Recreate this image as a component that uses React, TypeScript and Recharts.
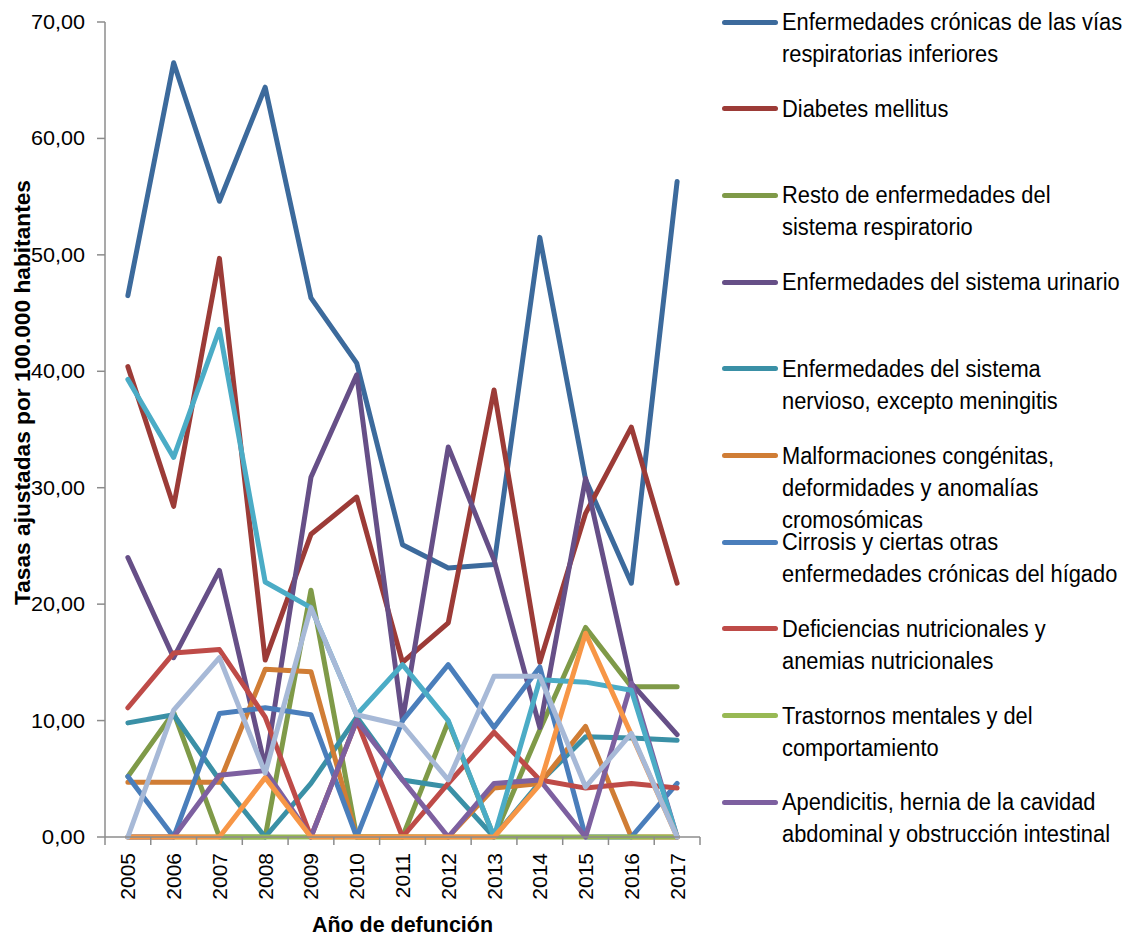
import { LineChart, Line, XAxis, YAxis, Label } from 'recharts'

const YEARS = [2005, 2006, 2007, 2008, 2009, 2010, 2011, 2012, 2013, 2014, 2015, 2016, 2017]

const CRONICAS_RESP = [46.5, 66.5, 54.6, 64.4, 46.3, 40.7, 25.1, 23.1, 23.4, 51.5, 30.7, 21.8, 56.3]
const DIABETES = [40.4, 28.4, 49.7, 15.2, 26.0, 29.2, 15.0, 18.4, 38.4, 15.0, 27.8, 35.2, 21.8]
const RESTO_RESP = [5.2, 10.7, 0, 0, 21.2, 0, 0, 9.9, 0, 9.2, 18.0, 12.9, 12.9]
const URINARIO = [24.0, 15.4, 22.9, 6.0, 30.9, 39.7, 10.0, 33.5, 23.8, 9.4, 30.8, 13.2, 8.8]
const NERVIOSO = [9.8, 10.5, 4.9, 0, 4.6, 10.3, 4.9, 4.3, 0, 4.7, 8.6, 8.5, 8.3]
const MALFORMACIONES = [4.7, 4.7, 4.7, 14.4, 14.2, 0, 0, 0, 4.2, 4.6, 9.5, 0, 0]
const CIRROSIS = [5.2, 0, 10.6, 11.1, 10.5, 0, 10.0, 14.8, 9.4, 14.6, 0, 0, 4.6]
const DEFICIENCIAS = [11.1, 15.8, 16.1, 10.3, 0, 10.0, 0, 4.6, 9.0, 4.9, 4.2, 4.6, 4.2]
const TRASTORNOS = [0, 0, 0, 0, 0, 0, 0, 0, 0, 0, 0, 0, 0]
const APENDICITIS = [0, 0, 5.3, 5.7, 0, 10.0, 4.9, 0, 4.6, 4.9, 0, 13.2, 0]
// series whose legend entries are cut off in the original
const OTRA_1 = [39.3, 32.6, 43.6, 21.9, 19.7, 10.5, 14.8, 10.0, 0, 13.5, 13.3, 12.6, 0]
const OTRA_2 = [0, 0, 0, 5.1, 0, 0, 0, 0, 0, 4.5, 17.5, 8.8, 0]
const OTRA_3 = [0, 10.9, 15.4, 5.5, 19.7, 10.5, 9.6, 4.9, 13.8, 13.8, 4.3, 8.9, 0]

const Y_TICKS = [0, 10, 20, 30, 40, 50, 60, 70]

const SERIES = [
  { key: 's1', name: 'Enfermedades crónicas de las vías\nrespiratorias inferiores', values: CRONICAS_RESP, color: '#3c6a9c', legend: true },
  { key: 's2', name: 'Diabetes mellitus', values: DIABETES, color: '#9c3b37', legend: true },
  { key: 's3', name: 'Resto de enfermedades del\nsistema respiratorio', values: RESTO_RESP, color: '#7f9a48', legend: true },
  { key: 's4', name: 'Enfermedades del sistema urinario', values: URINARIO, color: '#664f87', legend: true },
  { key: 's5', name: 'Enfermedades del sistema\nnervioso, excepto meningitis', values: NERVIOSO, color: '#3a90a6', legend: true },
  { key: 's6', name: 'Malformaciones congénitas,\ndeformidades y anomalías\ncromosómicas', values: MALFORMACIONES, color: '#d07d35', legend: true },
  { key: 's7', name: 'Cirrosis y ciertas otras\nenfermedades crónicas del hígado', values: CIRROSIS, color: '#4a7ebb', legend: true },
  { key: 's8', name: 'Deficiencias nutricionales y\nanemias nutricionales', values: DEFICIENCIAS, color: '#be4b48', legend: true },
  { key: 's9', name: 'Trastornos mentales y del\ncomportamiento', values: TRASTORNOS, color: '#98b954', legend: true },
  { key: 's10', name: 'Apendicitis, hernia de la cavidad\nabdominal y obstrucción intestinal', values: APENDICITIS, color: '#7d60a0', legend: true },
  { key: 's11', name: 'Otra 1', values: OTRA_1, color: '#4bacc6', legend: false },
  { key: 's12', name: 'Otra 2', values: OTRA_2, color: '#f79646', legend: false },
  { key: 's13', name: 'Otra 3', values: OTRA_3, color: '#a7b9d7', legend: false },
]

const data = YEARS.map((year, i) => {
  const row: Record<string, number> = { year }
  SERIES.forEach((s) => {
    row[s.key] = s.values[i]
  })
  return row
})

const W = 1125
const H = 938
const Y_AXIS_W = 105
const RIGHT = 425
const X_AXIS_H = 101
const HALF_STEP = (W - Y_AXIS_W - RIGHT) / YEARS.length / 2

const SANS = '"Liberation Sans", Arial, sans-serif'
const AXIS = '#8c8c8c'

const fmt = (v: number) => v.toFixed(2).replace('.', ',')

function XTick(props: any) {
  const { x, y, payload, index } = props
  const last = index === YEARS.length - 1
  return (
    <g>
      <line x1={x - HALF_STEP} x2={x - HALF_STEP} y1={y} y2={y + 8} stroke={AXIS} strokeWidth={1.5} />
      {last && <line x1={x + HALF_STEP} x2={x + HALF_STEP} y1={y} y2={y + 8} stroke={AXIS} strokeWidth={1.5} />}
      <text
        transform={`translate(${x},${y + 16}) rotate(-90)`}
        textAnchor="end"
        dominantBaseline="central"
        fontSize={21}
        fontFamily={SANS}
        fill="#000"
      >
        {payload.value}
      </text>
    </g>
  )
}

// the original tick labels are a touch wider than Arial, so stretch them a little
function YTick(props: any) {
  const { x, y, payload } = props
  const label = fmt(payload.value)
  return (
    <text
      x={x}
      y={y}
      textAnchor="end"
      dominantBaseline="central"
      fontSize={20}
      fontFamily={SANS}
      textLength={label.length * 10.8}
      lengthAdjust="spacingAndGlyphs"
      fill="#000"
    >
      {label}
    </text>
  )
}

// Excel's legend, drawn beside the plot; Arial Narrow is imitated with a horizontal squeeze
function LegendBox() {
  const items = SERIES.filter((s) => s.legend)
  return (
    <div style={{ position: 'absolute', left: 722, top: 0, width: 403, height: H, overflow: 'hidden' }}>
      {items.map((s, i) => (
        <div
          key={s.key}
          style={{ position: 'absolute', left: 0, top: 22 + i * 86.7 - 16, display: 'flex', alignItems: 'flex-start' }}
        >
          <div style={{ width: 56, height: 32, display: 'flex', alignItems: 'center', flex: 'none' }}>
            <div style={{ width: 56, height: 5, borderRadius: 2.5, background: s.color }} />
          </div>
          <div
            style={{
              marginLeft: 4,
              whiteSpace: 'pre',
              fontFamily: SANS,
              fontSize: 23.5,
              lineHeight: '32px',
              color: '#000',
              transform: 'scaleX(0.93)',
              transformOrigin: 'left top',
            }}
          >
            {s.name}
          </div>
        </div>
      ))}
    </div>
  )
}

export default function App() {
  return (
    <div style={{ position: 'absolute', left: 0, top: 0, width: W, height: H, background: '#fff' }}>
      <LineChart width={W} height={H} data={data} margin={{ top: 22, right: RIGHT, bottom: 0, left: 0 }}>
        <XAxis
          dataKey="year"
          type="number"
          domain={[2004.5, 2017.5]}
          ticks={YEARS}
          interval={0}
          height={X_AXIS_H}
          tickLine={false}
          tickSize={0}
          tickMargin={0}
          axisLine={{ stroke: AXIS, strokeWidth: 1.5 }}
          tick={<XTick />}
        >
          <Label
            content={({ viewBox }: any) => (
              <text
                x={viewBox.x + viewBox.width / 2}
                y={viewBox.y + viewBox.height - 6}
                textAnchor="middle"
                fontFamily={SANS}
                fontWeight="bold"
                fontSize={22}
                textLength={181}
                lengthAdjust="spacingAndGlyphs"
                fill="#000"
              >
                Año de defunción
              </text>
            )}
          />
        </XAxis>
        <YAxis
          width={Y_AXIS_W}
          domain={[0, 70]}
          ticks={Y_TICKS}
          interval={0}
          tickSize={8}
          tickMargin={12}
          tickLine={{ stroke: AXIS, strokeWidth: 1.5 }}
          axisLine={{ stroke: AXIS, strokeWidth: 1.5 }}
          tick={<YTick />}
        >
          <Label
            content={({ viewBox }: any) => {
              const cx = viewBox.x + 22
              const cy = viewBox.y + viewBox.height / 2 - 37
              return (
                <text
                  transform={`translate(${cx},${cy}) rotate(-90)`}
                  textAnchor="middle"
                  dominantBaseline="central"
                  fontFamily={SANS}
                  fontWeight="bold"
                  fontSize={22}
                  textLength={425}
                  lengthAdjust="spacingAndGlyphs"
                  fill="#000"
                >
                  Tasas ajustadas por 100.000 habitantes
                </text>
              )
            }}
          />
        </YAxis>
        {SERIES.map((s) => (
          <Line
            key={s.key}
            type="linear"
            dataKey={s.key}
            name={s.name}
            stroke={s.color}
            strokeWidth={5}
            strokeLinecap="round"
            strokeLinejoin="round"
            dot={false}
            activeDot={false}
            legendType={s.legend ? 'line' : 'none'}
            isAnimationActive={false}
          />
        ))}
      </LineChart>
      <LegendBox />
    </div>
  )
}
